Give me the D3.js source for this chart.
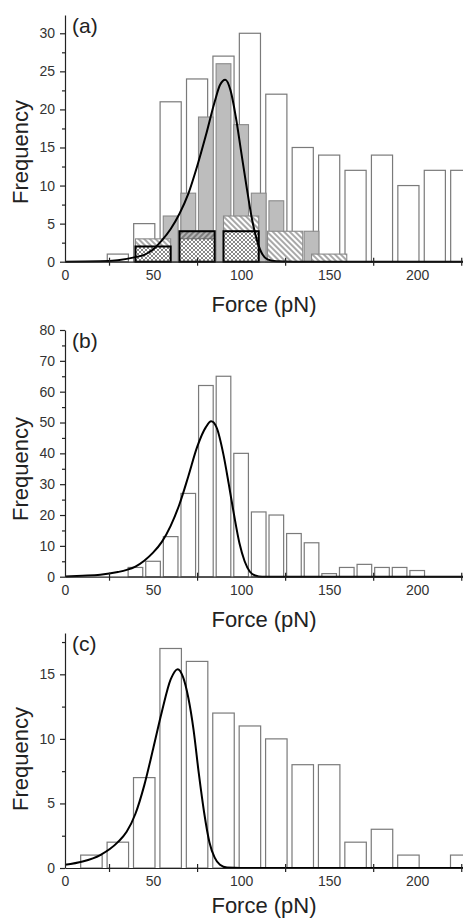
<!DOCTYPE html>
<html>
<head>
<meta charset="utf-8">
<script src="https://cdn.jsdelivr.net/npm/d3@7"></script>
<style>
  body { margin: 0; background: #fff; }
  text { font-family: "Liberation Sans", Arial, sans-serif; }
</style>
</head>
<body>
<div></div>
<script>
// tick labels
const xTicks = [0, 50, 100, 150, 200];
const xMinor = [25, 75, 125, 175, 225];
const yTicksA = [0, 5, 10, 15, 20, 25, 30];
const yTicksB = [0, 10, 20, 30, 40, 50, 60, 70, 80];
const yTicksC = [0, 5, 10, 15];

// panel (a)
const binsA = [30, 45, 60, 75, 90, 105, 120, 135, 150, 165, 180, 195, 210, 225];
const countsA = [1, 5, 21, 24, 27, 30, 22, 15, 14, 12, 14, 10, 12, 12];
const grayBinsA = [60, 70, 80, 90, 100, 110, 120, 130, 140];
const grayCountsA = [6, 9, 19, 26, 18, 9, 8, 3, 4];
const hatchBinsA = [50, 75, 100, 125, 150];
const hatchCountsA = [3, 4, 6, 4, 1];
const boldBinsA = [50, 75, 100];
const boldCountsA = [2, 4, 4];
const crossCountsA = [2, 3, 4];
const fitA = [[0, 0], [20, 0.05], [30, 0.2], [40, 0.6], [45, 0.9], [50, 1.6], [55, 2.8], [60, 4.3],
  [65, 6.3], [70, 8.9], [75, 12.5], [80, 16.6], [85, 21], [88, 23.2], [91, 23.9], [94, 22.5],
  [97, 19], [100, 14.5], [103, 10], [106, 5.8], [109, 2.8], [112, 1], [115, 0.3], [120, 0.05],
  [130, 0], [226, 0]];

// panel (b)
const binsB = [40, 50, 60, 70, 80, 90, 100, 110, 120, 130, 140, 150, 160, 170, 180, 190, 200];
const countsB = [3, 5, 13, 27, 62, 65, 40, 21, 20, 14, 11, 1, 3, 4, 3, 3, 2];
const fitB = [[0, 0.1], [10, 0.3], [20, 0.6], [30, 1.5], [35, 2.2], [40, 3.3], [45, 5.2], [50, 7.8],
  [55, 11.3], [60, 16.5], [65, 23.5], [70, 32.5], [75, 42], [80, 48.5], [83, 50.4], [86, 48.5],
  [90, 39.5], [93, 30], [96, 20], [99, 11], [102, 5], [105, 1.6], [108, 0.4], [112, 0], [226, 0]];

// panel (c)
const binsC = [15, 30, 45, 60, 75, 90, 105, 120, 135, 150, 165, 180, 195, 210, 225];
const countsC = [1, 2, 7, 17, 16, 12, 11, 10, 8, 8, 2, 3, 1, 0, 1];
const fitC = [[0, 0.25], [10, 0.5], [20, 1.0], [30, 2.0], [35, 2.8], [40, 4.2], [45, 6.4], [50, 9.2],
  [55, 12.1], [60, 14.6], [64, 15.4], [67, 14.8], [70, 13.2], [73, 10.7], [76, 7.3], [79, 4.3],
  [82, 2.0], [85, 0.8], [88, 0.25], [92, 0.03], [100, 0], [226, 0]];

const svg = d3.select("div").append("svg").attr("width", 463).attr("height", 920);

const defs = svg.append("defs");
function hatch(id, angle, bg, col, w) {
  const p = defs.append("pattern").attr("id", id).attr("patternUnits", "userSpaceOnUse")
    .attr("width", 4).attr("height", 4).attr("patternTransform", "rotate(" + angle + ")");
  p.append("rect").attr("width", 4).attr("height", 4).attr("fill", bg);
  p.append("line").attr("x1", 1).attr("y1", 0).attr("x2", 1).attr("y2", 4)
    .attr("stroke", col).attr("stroke-width", w);
}
hatch("light", -45, "#fff", "#6f6f6f", 1.2);
hatch("dark", 45, "#b5b5b5", "#555", 1.2);
const cp = defs.append("pattern").attr("id", "cross").attr("patternUnits", "userSpaceOnUse")
  .attr("width", 4).attr("height", 4);
cp.append("rect").attr("width", 4).attr("height", 4).attr("fill", "#fff");
cp.append("path").attr("d", "M0,0L4,4M4,0L0,4").attr("stroke", "#555").attr("stroke-width", 0.7);

const x = d3.scaleLinear().domain([0, 226]).range([65, 463]);

function bars(g, y, bins, counts, w, fill, stroke, sw) {
  g.append("g").selectAll("rect")
    .data(bins.map((b, i) => [b, counts[i]]).filter(d => d[1] > 0))
    .join("rect")
    .attr("x", d => x(d[0] - w / 2))
    .attr("width", d => x(d[0] + w / 2) - x(d[0] - w / 2))
    .attr("y", d => y(d[1]))
    .attr("height", d => y(0) - y(d[1]))
    .attr("fill", fill)
    .attr("stroke", stroke)
    .attr("stroke-width", sw);
}

function panel(cfg) {
  const g = svg.append("g");
  const y = d3.scaleLinear().domain([0, cfg.yMax]).range([cfg.y0, cfg.yTop]);

  cfg.draw(g, y);

  g.append("path")
    .datum(cfg.fit)
    .attr("fill", "none")
    .attr("stroke", "#000")
    .attr("stroke-width", 2)
    .attr("d", d3.line().x(d => x(d[0])).y(d => y(d[1])).curve(d3.curveMonotoneX));

  // axes
  const ax = g.append("g").attr("transform", "translate(0," + cfg.y0 + ")")
    .call(d3.axisBottom(x).tickValues(xTicks).tickSize(0).tickPadding(8).tickSizeOuter(0));
  const axm = g.append("g").attr("transform", "translate(0," + cfg.y0 + ")")
    .call(d3.axisBottom(x).tickValues(xMinor).tickFormat("").tickSizeOuter(0));
  axm.select(".domain").remove();
  axm.selectAll(".tick line").attr("y1", -4).attr("y2", 4);

  const minorY = [];
  for (let i = 0; i + 1 < cfg.yTicks.length; i++) minorY.push((cfg.yTicks[i] + cfg.yTicks[i + 1]) / 2);
  const last = cfg.yTicks[cfg.yTicks.length - 1], step = cfg.yTicks[1] - cfg.yTicks[0];
  if (last + step / 2 <= cfg.yMax) minorY.push(last + step / 2);

  const ay = g.append("g").attr("transform", "translate(65,0)")
    .call(d3.axisLeft(y).tickValues(cfg.yTicks).tickSize(5).tickPadding(5).tickSizeOuter(0));
  const aym = g.append("g").attr("transform", "translate(65,0)")
    .call(d3.axisLeft(y).tickValues(minorY).tickSize(3).tickFormat(""));
  aym.select(".domain").remove();

  [ax, axm, ay, aym].forEach(a => {
    a.selectAll("path, line").attr("stroke", "#222").attr("stroke-width", 1.2);
    a.selectAll("text").attr("font-size", 14).attr("fill", "#333")
      .style("font-family", '"Liberation Sans", Arial, sans-serif');
  });

  g.append("text").attr("x", 72).attr("y", cfg.yTop + 18).attr("font-size", 21).attr("fill", "#222")
    .text(cfg.tag);
  g.append("text").attr("x", 264).attr("y", cfg.y0 + cfg.xlabOff).attr("text-anchor", "middle")
    .attr("font-size", 22).attr("fill", "#222").text("Force (pN)");
  g.append("text").attr("transform", "translate(28," + cfg.ylabC + ") rotate(-90)")
    .attr("text-anchor", "middle").attr("font-size", 22).attr("fill", "#222").text("Frequency");
}

panel({
  tag: "(a)", y0: 261.7, yTop: 15, yMax: 32.4, yTicks: yTicksA, fit: fitA, xlabOff: 50, ylabC: 152,
  draw: (g, y) => {
    bars(g, y, binsA, countsA, 12, "#fff", "#7a7a7a", 1.2);
    bars(g, y, grayBinsA, grayCountsA, 8.4, "#bdbdbd", "#8a8a8a", 1.1);
    bars(g, y, hatchBinsA, hatchCountsA, 20, "url(#light)", "#8a8a8a", 1.1);
    bars(g, y, boldBinsA, boldCountsA, 20, "url(#dark)", "none", 0);
    bars(g, y, boldBinsA, crossCountsA, 20, "url(#cross)", "#555", 0.8);
    bars(g, y, boldBinsA, boldCountsA, 20, "none", "#000", 2);
  }
});

panel({
  tag: "(b)", y0: 576.7, yTop: 330, yMax: 80, yTicks: yTicksB, fit: fitB, xlabOff: 50, ylabC: 469,
  draw: (g, y) => {
    bars(g, y, binsB, countsB, 8.3, "#fff", "#7a7a7a", 1.2);
  }
});

panel({
  tag: "(c)", y0: 868, yTop: 633, yMax: 18.2, yTicks: yTicksC, fit: fitC, xlabOff: 45, ylabC: 759,
  draw: (g, y) => {
    bars(g, y, binsC, countsC, 12.2, "#fff", "#7a7a7a", 1.2);
  }
});
</script>
</body>
</html>
